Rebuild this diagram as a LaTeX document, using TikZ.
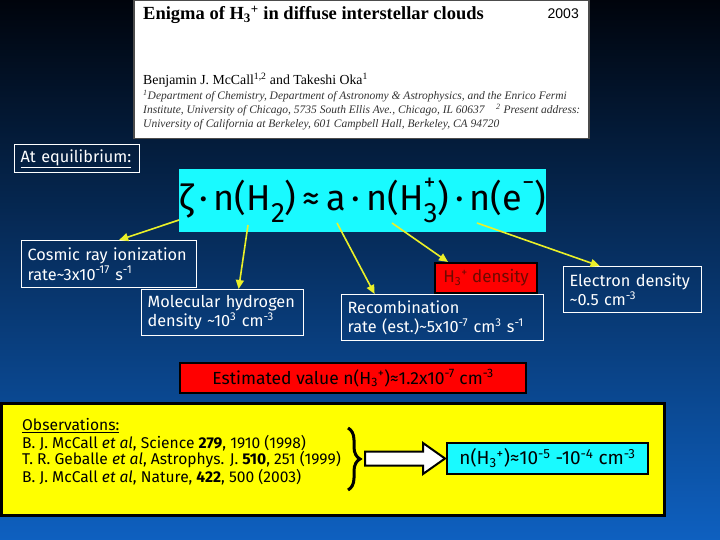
\documentclass[tikz,border=0pt]{standalone}
\usepackage{fontspec}
\setmainfont{Fira Sans}
\newfontfamily\paperfont{Liberation Serif}
\newfontfamily\yearfont{Liberation Sans}
\usetikzlibrary{arrows.meta,calc,decorations.pathreplacing}

\definecolor{skytop}{RGB}{0,4,12}
\definecolor{skymid}{RGB}{8,58,135}
\definecolor{skybot}{RGB}{14,96,192}
\definecolor{eqcyan}{RGB}{25,250,255}
\definecolor{hotred}{RGB}{255,0,0}
\definecolor{obsyellow}{RGB}{255,255,0}
\definecolor{feedyellow}{RGB}{235,240,40}
\definecolor{h3red}{RGB}{110,10,0}

\newcommand{\eqsub}[1]{\raisebox{-0.35em}{\fontsize{28}{28}\selectfont #1}}
\newcommand{\eqsup}[1]{\raisebox{0.55em}{\fontsize{24}{24}\selectfont #1}}

\tikzset{
  labelbox/.style={draw=white, line width=1.2pt, text=white, anchor=north west,
    align=left, inner xsep=6pt, inner ysep=0pt, font=\fontsize{16.3}{19.5}\selectfont},
  feed/.style={draw=feedyellow, line width=1.6pt, -{Triangle[length=9pt,width=8pt]}},
  blackbox/.style={draw=black, line width=2pt, anchor=north west, inner sep=0pt}
}

\begin{document}
\begin{tikzpicture}[x=1pt,y=-1pt]
  \useasboundingbox (0,0) rectangle (720,540);
  % sky background
  \shade[top color=skytop, middle color=skymid, bottom color=skybot] (0,0) rectangle (720,540);

  % paper header
  \node[fill=white, draw=black!70, line width=1.5pt, anchor=north west, minimum width=455pt,
    minimum height=138pt, inner sep=0pt] (paper) at (133,0) {};
  \node[anchor=base west, inner sep=0pt, font=\paperfont\bfseries\fontsize{18.5}{21}\selectfont]
    (title) at (143,20) {Enigma of H\textsubscript{3}\textsuperscript{+} in diffuse interstellar clouds};
  \node[anchor=base east, inner sep=0pt, font=\yearfont\fontsize{14}{16}\selectfont] (year) at (579,19) {2003};
  \node[anchor=base west, inner sep=0pt, font=\paperfont\fontsize{13.8}{16}\selectfont]
    (authors) at (143,85) {Benjamin J. McCall\textsuperscript{1,2} and Takeshi Oka\textsuperscript{1}};
  \node[anchor=base west, inner sep=0pt, font=\paperfont\itshape\fontsize{11.5}{13}\selectfont, text=black!80]
    (aff1) at (143,100) {\textsuperscript{1}Department of Chemistry, Department of Astronomy \& Astrophysics, and the Enrico Fermi};
  \node[anchor=base west, inner sep=0pt, font=\paperfont\itshape\fontsize{11.5}{13}\selectfont, text=black!80]
    (aff2) at (143,114) {Institute, University of Chicago, 5735 South Ellis Ave., Chicago, IL 60637\quad\textsuperscript{2} Present address:};
  \node[anchor=base west, inner sep=0pt, font=\paperfont\itshape\fontsize{11.5}{13}\selectfont, text=black!80]
    (aff3) at (143,128) {University of California at Berkeley, 601 Campbell Hall, Berkeley, CA 94720};

  % equilibrium
  \node[labelbox, minimum width=125pt, minimum height=28pt, text width=113pt] (equil) at (14,144)
    {\underline{At equilibrium:}};
  \node[fill=eqcyan, anchor=north west, minimum width=365pt, minimum height=63pt, inner sep=0pt,
    font=\fontsize{36}{40}\selectfont] (eq) at (179,169)
    {ζ\,·\,n(H\eqsub{2})\,≈\,a\,·\,n(H\rlap{\eqsup{+}}\eqsub{3})\,·\,n(e\eqsup{−})};

  % what each factor means
  \node[labelbox, minimum width=175pt, minimum height=47pt, text width=163pt] (cosmic) at (21,240)
    {Cosmic ray ionization\\rate\textasciitilde3x10\textsuperscript{-17} s\textsuperscript{-1}};
  \node[labelbox, minimum width=162pt, minimum height=46pt, text width=150pt] (hmolbox) at (141,289)
    {Molecular hydrogen\\density \textasciitilde10\textsuperscript{3} cm\textsuperscript{-3}};
  \node[labelbox, minimum width=202pt, minimum height=46pt, text width=190pt] (recomb) at (341,294)
    {Recombination\\rate (est.)\textasciitilde5x10\textsuperscript{-7} cm\textsuperscript{3} s\textsuperscript{-1}};
  \node[blackbox, fill=hotred, text=h3red, minimum width=102pt, minimum height=30pt,
    font=\fontsize{17}{20}\selectfont] (hdens) at (434,262)
    {H\textsubscript{3}\textsuperscript{+} density};
  \node[labelbox, minimum width=138pt, minimum height=46pt, text width=126pt] (edens) at (563,266)
    {Electron density\\\textasciitilde0.5 cm\textsuperscript{-3}};

  \coordinate (zeta) at (179,220);
  \coordinate (hmol) at (248,225);
  \coordinate (alpha) at (337,223);
  \coordinate (hion) at (392,223);
  \coordinate (elec) at (477,223);
  \draw[feed] (zeta) -- ([xshift=10pt]cosmic.north);
  \draw[feed] (hmol) -- ([xshift=16pt]hmolbox.north);
  \draw[feed] (alpha) -- ([xshift=-68pt]recomb.north);
  \draw[feed] (hion) -- ([xshift=-38pt]hdens.north);
  \draw[feed] (elec) -- ([xshift=-33pt]edens.north);

  % estimate
  \node[blackbox, fill=hotred, minimum width=346pt, minimum height=30pt,
    font=\fontsize{17.5}{20}\selectfont] (estim) at (179,362)
    {Estimated value n(H\textsubscript{3}\textsuperscript{+})≈1.2x10\textsuperscript{-7} cm\textsuperscript{-3}};

  % observations
  \node[blackbox, fill=obsyellow, line width=3pt, minimum width=663pt, minimum height=112pt] (obs) at (0,402) {};
  \node[anchor=north west, align=left, inner sep=0pt, font=\fontsize{15.6}{16.5}\selectfont] (refs) at (22,418)
    {\underline{Observations:}\\[1.5pt]
     B. J. McCall \textit{et al}, Science \textbf{279}, 1910 (1998)\\
     T. R. Geballe \textit{et al}, Astrophys. J. \textbf{510}, 251 (1999)\\
     B. J. McCall \textit{et al}, Nature, \textbf{422}, 500 (2003)};
  \node[blackbox, fill=eqcyan, minimum width=201pt, minimum height=31pt,
    font=\fontsize{19}{22}\selectfont] (res) at (446,442)
    {n(H\textsubscript{3}\textsuperscript{+})≈10\textsuperscript{-5} -10\textsuperscript{-4} cm\textsuperscript{-3}};
  \coordinate (brtop) at (348,428);
  \coordinate (brbot) at (348,490);
  \draw[line width=3pt, decorate, decoration={brace, amplitude=12pt}] (brtop) -- (brbot);
  \draw[fill=white, line width=2pt] ($(res.west)+(-81,-7)$) -- ++(58,0) -- ++(0,-8.5)
    -- ($(res.west)+(-1,0)$) -- ($(res.west)+(-23,15.5)$) -- ++(0,-8.5) -- ++(-58,0) -- cycle;
\end{tikzpicture}
\end{document}
